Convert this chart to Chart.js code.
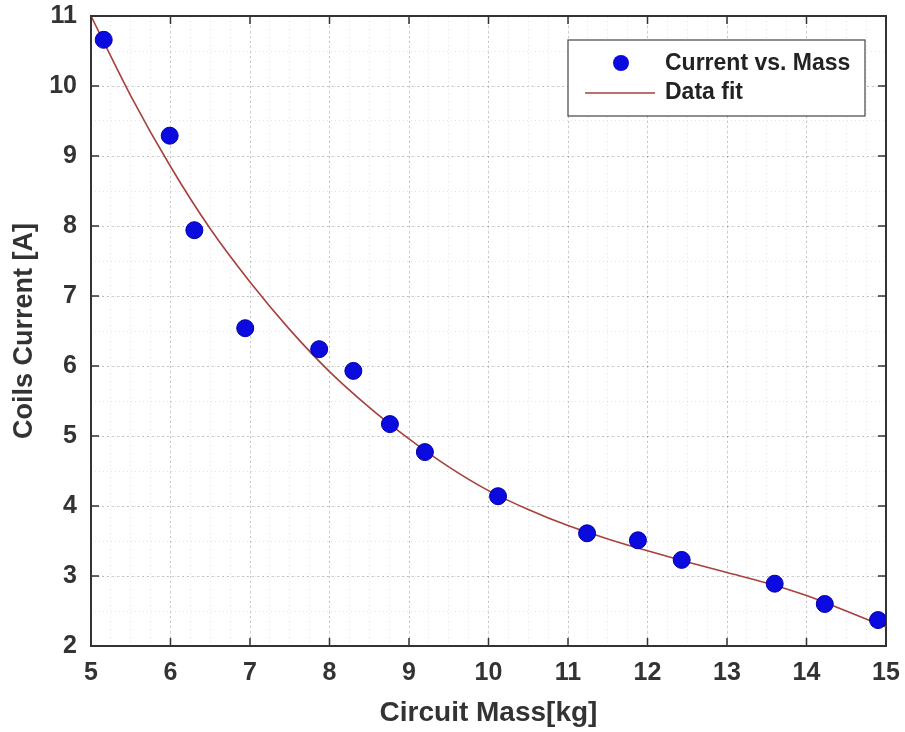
<!DOCTYPE html>
<html>
<head>
<meta charset="utf-8">
<script src="https://cdn.jsdelivr.net/npm/chart.js@4.4.0/dist/chart.umd.min.js"></script>
<style>
    html, body { margin: 0; padding: 0; background: #fff; }
    #wrap { width: 905px; height: 732px; }
</style>
</head>
<body>
<div id="wrap"><canvas id="massChart" width="905" height="732"></canvas></div>
<script>
const massKg = [5.16, 5.99, 6.30, 6.94, 7.87, 8.30, 8.76, 9.20, 10.12, 11.24, 11.88, 12.43, 13.60, 14.23, 14.90];
const currentA = [10.66, 9.29, 7.94, 6.54, 6.24, 5.93, 5.17, 4.77, 4.14, 3.61, 3.51, 3.23, 2.89, 2.60, 2.37];

// fit curve, also
const fitMass = [5, 5.5, 6, 6.5, 7, 7.5, 8, 8.5, 9, 9.5, 10, 10.5, 11, 11.5, 12, 12.5, 13, 13.5, 14, 14.5, 15];
const fitCurrent = [11.0, 9.86, 8.85, 7.96, 7.2, 6.52, 5.92, 5.41, 4.96, 4.56, 4.22, 3.95, 3.72, 3.53, 3.36, 3.2, 3.05, 2.9, 2.72, 2.5, 2.27];

// axis ticks
const xTicks = [5, 6, 7, 8, 9, 10, 11, 12, 13, 14, 15];
const yTicks = [2, 3, 4, 5, 6, 7, 8, 9, 10, 11];

const FONT = '"Liberation Sans", Arial, sans-serif';
const INK = '#333333';

// minor grid positions
function minorTicks(scale, step) {
    let t = [];
    for (let v = scale.min; v <= scale.max + 1e-9; v += step) {
        t.push({ value: Math.round(v * 100) / 100 });
    }
    scale.ticks = t;
}

// fixed axis size, no extra padding for overhanging labels
function fixSize(w, h) {
    return (s) => {
        if (w !== null) s.width = w;
        if (h !== null) s.height = h;
        s.paddingTop = 0; s.paddingBottom = 0;
        s.paddingLeft = 0; s.paddingRight = 0;
    };
}

// inward tick marks on all four sides + legend box
const matlabFrame = {
    id: 'matlabFrame',
    afterDraw(chart) {
        const { ctx, chartArea: a, scales: { x, y } } = chart;
        ctx.save();
        ctx.strokeStyle = INK;
        ctx.lineWidth = 1.5;
        ctx.beginPath();
        xTicks.forEach((v) => {
            let px = x.getPixelForValue(v);
            ctx.moveTo(px, a.bottom); ctx.lineTo(px, a.bottom - 8);
            ctx.moveTo(px, a.top); ctx.lineTo(px, a.top + 8);
        });
        yTicks.forEach((v) => {
            let py = y.getPixelForValue(v);
            ctx.moveTo(a.left, py); ctx.lineTo(a.left + 8, py);
            ctx.moveTo(a.right, py); ctx.lineTo(a.right - 8, py);
        });
        ctx.stroke();

        // legend
        const ds = chart.data.datasets;
        const bx = a.right - 318, by = a.top + 24, bw = 297, bh = 76;
        ctx.fillStyle = '#fff';
        ctx.fillRect(bx, by, bw, bh);
        ctx.strokeStyle = '#444';
        ctx.lineWidth = 1.2;
        ctx.strokeRect(bx, by, bw, bh);

        ctx.beginPath();
        ctx.arc(bx + 53, by + 23, 8, 0, Math.PI * 2);
        ctx.fillStyle = ds[0].backgroundColor;
        ctx.fill();

        ctx.beginPath();
        ctx.moveTo(bx + 17, by + 53);
        ctx.lineTo(bx + 87, by + 53);
        ctx.strokeStyle = ds[1].borderColor;
        ctx.lineWidth = 1.6;
        ctx.stroke();

        ctx.fillStyle = '#222';
        ctx.font = 'bold 23px ' + FONT;
        ctx.textBaseline = 'middle';
        ctx.textAlign = 'left';
        ctx.fillText(ds[0].label, bx + 97, by + 24);
        ctx.fillText(ds[1].label, bx + 97, by + 53);
        ctx.restore();
    }
};

const ctx = document.getElementById('massChart').getContext('2d');

new Chart(ctx, {
    type: 'scatter',
    data: {
        datasets: [
            {
                label: 'Current vs. Mass',
                data: massKg.map((m, i) => ({ x: m, y: currentA[i] })),
                backgroundColor: '#0b0be0',
                borderColor: '#0000a8',
                borderWidth: 1,
                pointRadius: 8.5,
                order: 0
            },
            {
                label: 'Data fit',
                data: fitMass.map((m, i) => ({ x: m, y: fitCurrent[i] })),
                showLine: true,
                borderColor: '#a8403c',
                backgroundColor: '#a8403c',
                borderWidth: 1.6,
                pointRadius: 0,
                cubicInterpolationMode: 'monotone',
                order: 1
            }
        ]
    },
    options: {
        responsive: false,
        animation: false,
        devicePixelRatio: 1,
        layout: { padding: { top: 16, right: 19, left: 0, bottom: 0 } },
        plugins: {
            legend: { display: false },
            tooltip: { enabled: false }
        },
        scales: {
            x: {
                type: 'linear',
                position: 'bottom',
                min: 5,
                max: 15,
                afterBuildTicks: (s) => { s.ticks = xTicks.map((v) => ({ value: v })); },
                afterFit: fixSize(null, 86),
                ticks: { color: INK, padding: 12, autoSkip: false, maxRotation: 0, font: { family: FONT, size: 25, weight: 'bold' } },
                grid: { color: 'rgba(0,0,0,0.2)', lineWidth: 1, drawTicks: false },
                border: { display: true, color: INK, width: 2, dash: [2, 3] },
                title: {
                    display: true,
                    text: 'Circuit Mass[kg]',
                    color: INK,
                    font: { family: FONT, size: 28, weight: 'bold' },
                    padding: { top: 0, bottom: 2 }
                }
            },
            y: {
                type: 'linear',
                position: 'left',
                min: 2,
                max: 11,
                afterBuildTicks: (s) => { s.ticks = yTicks.map((v) => ({ value: v })); },
                afterFit: fixSize(91, null),
                ticks: { color: INK, padding: 14, font: { family: FONT, size: 25, weight: 'bold' } },
                grid: { color: 'rgba(0,0,0,0.2)', lineWidth: 1, drawTicks: false },
                border: { display: true, color: INK, width: 2, dash: [2, 3] },
                title: {
                    display: true,
                    text: 'Coils Current [A]',
                    color: INK,
                    font: { family: FONT, size: 27, weight: 'bold' },
                    padding: { top: 8, bottom: 0 }
                }
            },
            xMinor: {
                type: 'linear',
                position: 'top',
                min: 5,
                max: 15,
                afterBuildTicks: (s) => minorTicks(s, 0.25),
                afterFit: fixSize(null, 0),
                ticks: { display: false },
                grid: { color: 'rgba(0,0,0,0.1)', lineWidth: 1, drawTicks: false },
                border: { display: true, color: INK, width: 2, dash: [1, 3] }
            },
            yMinor: {
                type: 'linear',
                position: 'right',
                min: 2,
                max: 11,
                afterBuildTicks: (s) => minorTicks(s, 0.5),
                afterFit: fixSize(0, null),
                ticks: { display: false },
                grid: { color: 'rgba(0,0,0,0.1)', lineWidth: 1, drawTicks: false },
                border: { display: true, color: INK, width: 2, dash: [1, 3] }
            }
        }
    },
    plugins: [matlabFrame]
});
</script>
</body>
</html>
